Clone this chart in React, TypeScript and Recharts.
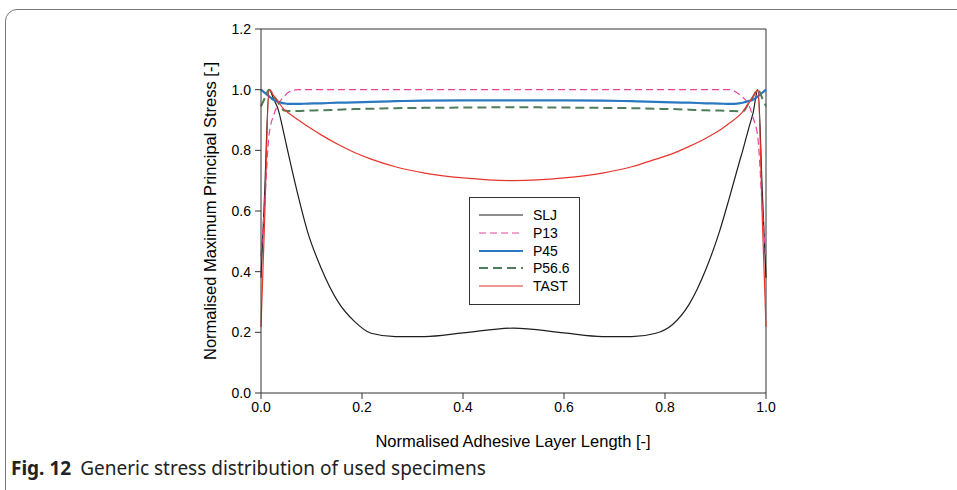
import { LineChart, Line, XAxis, YAxis, ReferenceLine } from "recharts";

const xs = [
  0, 0.007, 0.016, 0.026, 0.033, 0.046, 0.053, 0.073, 0.092, 0.119, 0.152,
  0.185, 0.218, 0.266, 0.324, 0.4, 0.5, 0.6, 0.676, 0.734, 0.782, 0.815,
  0.848, 0.881, 0.908, 0.927, 0.947, 0.954, 0.967, 0.974, 0.984, 0.993, 1.0,
];

const slj = [
  0.38, 0.65, 1.0, 0.965, 0.94, 0.85, 0.797, 0.654, 0.533, 0.412, 0.302,
  0.236, 0.197, 0.186, 0.186, 0.198, 0.214, 0.198, 0.186, 0.186, 0.197, 0.226,
  0.293, 0.408, 0.533, 0.641, 0.76, 0.8, 0.88, 0.92, 1.0, 0.65, 0.38,
];

const p13 = [
  0.45, 0.62, 0.852, 0.92, 0.95, 0.978, 0.99, 1.0, 1.0, 1.0, 1.0,
  1.0, 1.0, 1.0, 1.0, 1.0, 1.0, 1.0, 1.0, 1.0, 1.0, 1.0,
  1.0, 1.0, 1.0, 1.0, 0.985, 0.975, 0.945, 0.91, 0.84, 0.6, 0.45,
];

const p45 = [
  1.0, 0.99, 0.978, 0.965, 0.96, 0.955, 0.953, 0.953, 0.954, 0.955, 0.957,
  0.958, 0.96, 0.962, 0.964, 0.965, 0.965, 0.965, 0.964, 0.962, 0.96, 0.958,
  0.957, 0.955, 0.954, 0.953, 0.955, 0.957, 0.963, 0.967, 0.978, 0.99, 1.0,
];

const p566 = [
  0.945, 0.97, 1.0, 0.977, 0.961, 0.931, 0.93, 0.93, 0.931, 0.932, 0.934,
  0.936, 0.937, 0.939, 0.94, 0.941, 0.942, 0.941, 0.94, 0.939, 0.937, 0.936,
  0.934, 0.932, 0.931, 0.93, 0.929, 0.928, 0.959, 0.976, 1.0, 0.97, 0.945,
];

const tast = [
  0.218, 0.56, 1.0, 0.978, 0.963, 0.934, 0.925, 0.901, 0.879, 0.851, 0.82,
  0.793, 0.771, 0.746, 0.725, 0.709, 0.7, 0.709, 0.725, 0.746, 0.771, 0.789,
  0.813, 0.84, 0.866, 0.889, 0.915, 0.928, 0.959, 0.976, 1.0, 0.56, 0.218,
];

const xTicks = [0, 0.2, 0.4, 0.6, 0.8, 1.0];
const yTicks = [0, 0.2, 0.4, 0.6, 0.8, 1.0, 1.2];

const data = xs.map((x, i) => ({
  x,
  slj: slj[i],
  p13: p13[i],
  p45: p45[i],
  p566: p566[i],
  tast: tast[i],
}));

const series = [
  { key: "slj", name: "SLJ", color: "#1e1e1e", width: 1.2, dash: undefined },
  { key: "p13", name: "P13", color: "#e8449e", width: 1.2, dash: "7 4" },
  { key: "p45", name: "P45", color: "#2b78c2", width: 2.2, dash: undefined },
  { key: "p566", name: "P56.6", color: "#4e7d5a", width: 2, dash: "9 5" },
  { key: "tast", name: "TAST", color: "#e8352c", width: 1.2, dash: undefined },
];

const chartFont = "'Liberation Sans', Arial, sans-serif";
const axisColor = "#333";

export default function App() {
  return (
    <div
      style={{
        position: "absolute",
        left: 0,
        top: 0,
        width: 957,
        height: 490,
        overflow: "hidden",
        background: "#fff",
      }}
    >
      <div
        style={{
          position: "absolute",
          left: 5,
          top: 9,
          width: 1100,
          height: 600,
          border: "1.5px solid #777",
          borderRadius: 12,
        }}
      />
      <div style={{ position: "absolute", left: 0, top: 0 }}>
        <LineChart
          width={957}
          height={490}
          data={data}
          margin={{ top: 29, right: 191, bottom: 67, left: 221 }}
        >
          <XAxis
            dataKey="x"
            type="number"
            domain={[0, 1]}
            ticks={xTicks}
            tickFormatter={(v: number) => v.toFixed(1)}
            height={30}
            tickSize={6}
            tickMargin={3}
            stroke={axisColor}
            tick={{ fill: "#000", fontSize: 14, fontFamily: chartFont }}
          />
          <YAxis
            type="number"
            domain={[0, 1.2]}
            ticks={yTicks}
            tickFormatter={(v: number) => v.toFixed(1)}
            width={40}
            tickSize={6}
            tickMargin={4}
            stroke={axisColor}
            tick={{ fill: "#000", fontSize: 14, fontFamily: chartFont }}
          />
          <ReferenceLine y={1.2} stroke={axisColor} />
          <ReferenceLine x={1} stroke={axisColor} />
          {series.map((s) => (
            <Line
              key={s.key}
              type="monotone"
              dataKey={s.key}
              name={s.name}
              stroke={s.color}
              strokeWidth={s.width}
              strokeDasharray={s.dash}
              dot={false}
              activeDot={false}
              isAnimationActive={false}
            />
          ))}
        </LineChart>
      </div>

      {/* legend box */}
      <div
        style={{
          position: "absolute",
          left: 469,
          top: 197,
          width: 111,
          height: 108,
          border: "1px solid #333",
          background: "#fff",
          boxSizing: "border-box",
          fontFamily: chartFont,
          fontSize: 14,
        }}
      >
        {series.map((s, i) => (
          <div
            key={s.key}
            style={{
              position: "absolute",
              left: 8,
              top: 8 + i * 17.8,
              height: 18,
              display: "flex",
              alignItems: "center",
            }}
          >
            <svg width={46} height={18}>
              <line
                x1={1}
                y1={9}
                x2={45}
                y2={9}
                stroke={s.color}
                strokeWidth={s.width}
                strokeDasharray={s.dash}
              />
            </svg>
            <span style={{ marginLeft: 9, color: "#000" }}>{s.name}</span>
          </div>
        ))}
      </div>

      {/* axis titles */}
      <div
        style={{
          position: "absolute",
          left: 210,
          top: 211,
          transform: "translate(-50%, -50%) rotate(-90deg)",
          whiteSpace: "nowrap",
          fontFamily: chartFont,
          fontSize: 16.5,
          color: "#000",
        }}
      >
        Normalised Maximum Principal Stress [-]
      </div>
      <div
        style={{
          position: "absolute",
          left: 513,
          top: 441,
          transform: "translate(-50%, -50%)",
          whiteSpace: "nowrap",
          fontFamily: chartFont,
          fontSize: 16.5,
          color: "#000",
        }}
      >
        Normalised Adhesive Layer Length [-]
      </div>

      {/* caption */}
      <div
        style={{
          position: "absolute",
          left: 11,
          top: 455,
          whiteSpace: "nowrap",
          fontFamily: "'Noto Sans', 'Open Sans', sans-serif",
          fontSize: 19,
          color: "#222",
        }}
      >
        <b>Fig. 12</b>
        <span style={{ marginLeft: 9 }}>Generic stress distribution of used specimens</span>
      </div>
    </div>
  );
}
